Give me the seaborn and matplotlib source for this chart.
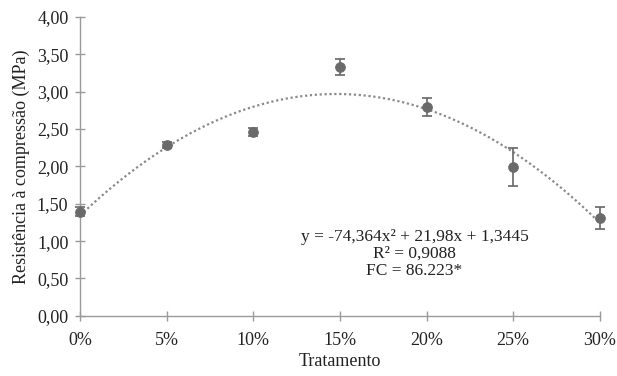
import numpy as np
import matplotlib
matplotlib.use("Agg")
import matplotlib.pyplot as plt
import seaborn as sns
import pandas as pd
from matplotlib.ticker import FuncFormatter

treatments = [0.00, 0.05, 0.10, 0.15, 0.20, 0.25, 0.30]
tick_labels = ["0%", "5%", "10%", "15%", "20%", "25%", "30%"]
strength = [1.39, 2.28, 2.46, 3.33, 2.80, 1.99, 1.31]
errors = [0.06, 0.04, 0.06, 0.11, 0.12, 0.25, 0.15]
coef = [-74.364, 21.98, 1.3445]

sns.set_theme(style="white")
plt.rcParams['font.family'] = ['Liberation Serif', 'DejaVu Serif']

fig = plt.figure(figsize=(6.17, 3.76), dpi=100)
ax = fig.add_axes([0.13, 0.16, 0.842, 0.795])

xs = np.linspace(0, 0.30, 200)
fit = pd.DataFrame({"x": xs, "y": np.polyval(coef, xs)})
sns.lineplot(data=fit, x="x", y="y", ax=ax, color="#8a8a8a", linestyle=(0, (1, 1.2)),
             linewidth=1.6, zorder=2)

df = pd.DataFrame({"x": treatments, "y": strength})
ax.errorbar(treatments, strength, yerr=errors, fmt="none", ecolor="#666666",
            elinewidth=1.2, capsize=3.5, capthick=1.2, zorder=3, clip_on=False)
sns.scatterplot(data=df, x="x", y="y", ax=ax, color="#6a6a6a", s=50, edgecolor="#6a6a6a",
                zorder=4, clip_on=False)

ax.set_xlim(0, 0.30)
ax.set_ylim(0, 4.0)
ax.set_xticks(treatments)
ax.set_xticklabels(tick_labels)
ax.set_yticks(np.arange(0, 4.01, 0.5))
ax.yaxis.set_major_formatter(FuncFormatter(lambda v, p: f"{v:.2f}".replace(".", ",")))

for s in ["top", "right"]:
    ax.spines[s].set_visible(False)
for s in ["left", "bottom"]:
    ax.spines[s].set_color("#9a9a9a")
    ax.spines[s].set_linewidth(1.0)
ax.tick_params(axis="both", direction="inout", length=7, width=1.0, color="#9a9a9a",
               labelsize=13, labelcolor="#222222", pad=5, bottom=True, left=True)
ax.tick_params(axis="x", pad=8)
ax.set_xlabel("Tratamento", fontsize=13, color="#222222", labelpad=3)
ax.set_ylabel("Resistência à compressão (MPa)", fontsize=13, color="#222222", labelpad=5)

ax.text(0.193, 0.83, "y = -74,364x² + 21,98x + 1,3445\nR² = 0,9088\nFC = 86.223*",
        ha="center", va="center", fontsize=12.5, color="#222222", linespacing=1.1)

fig.savefig("out.png", dpi=100)
